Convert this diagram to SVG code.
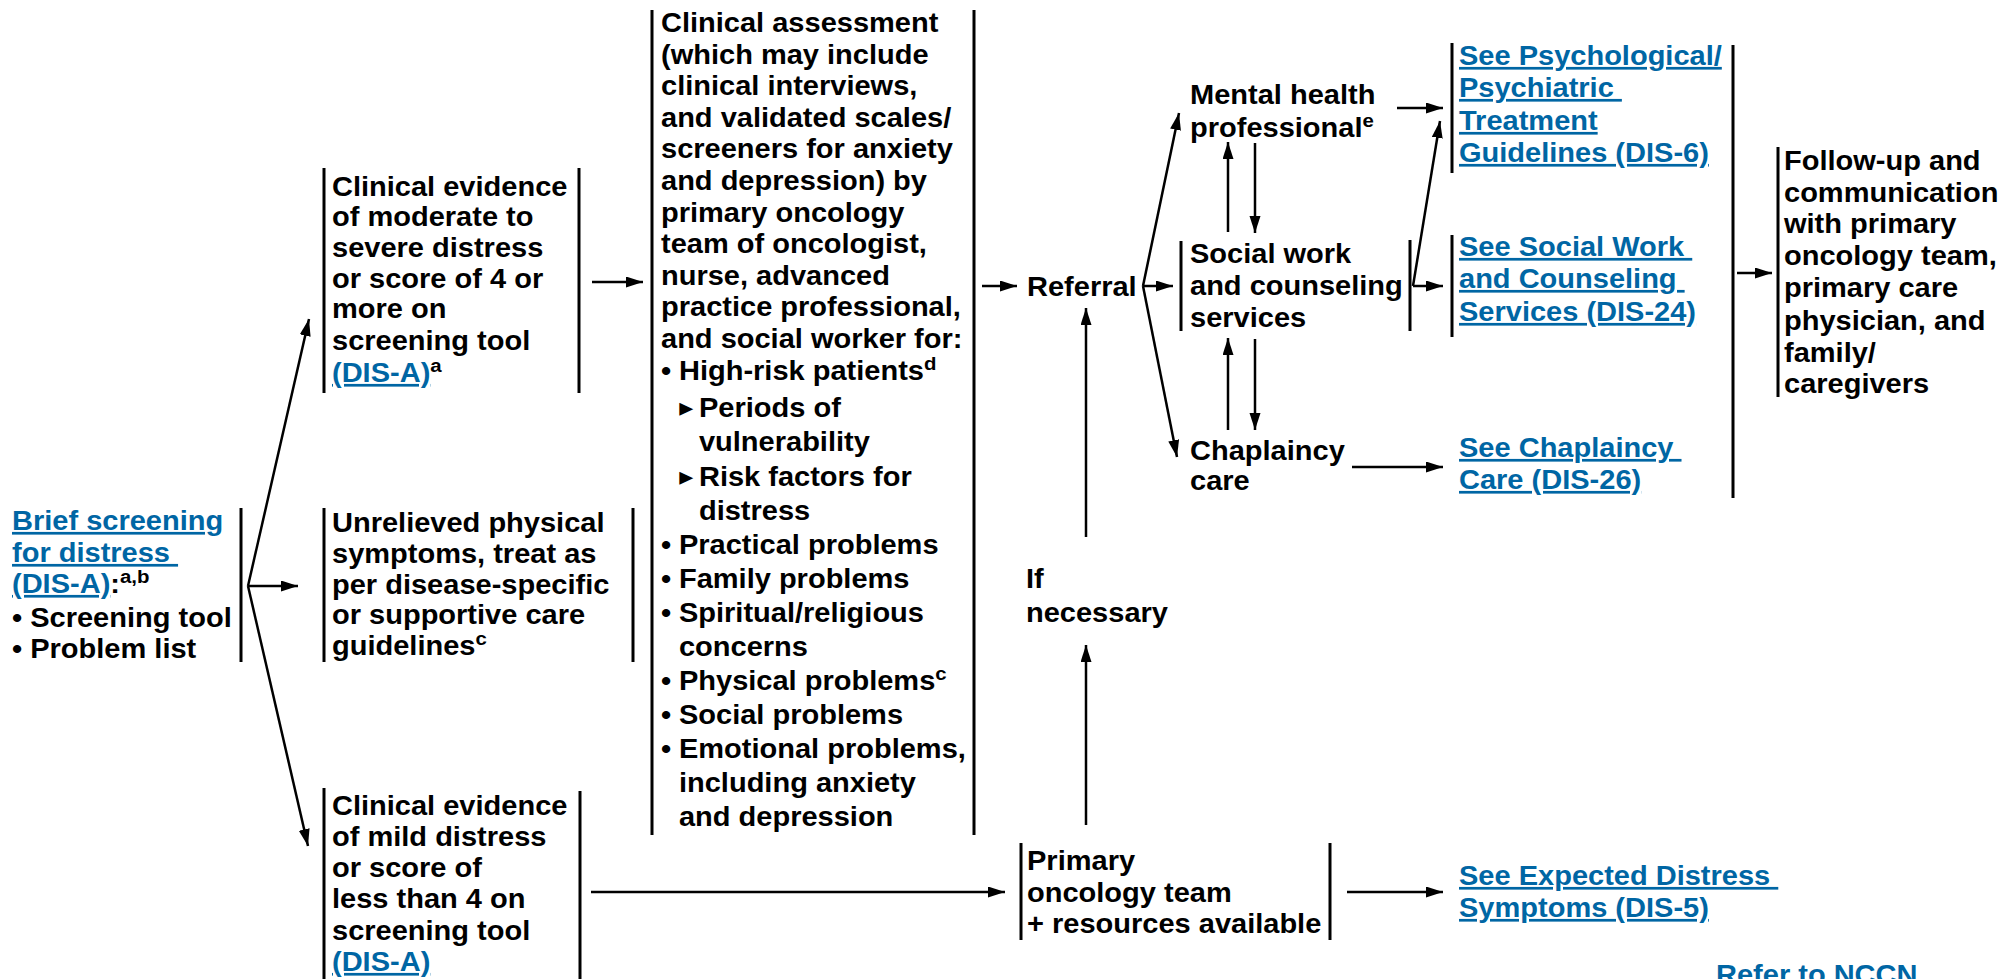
<svg xmlns="http://www.w3.org/2000/svg" width="2003" height="979" viewBox="0 0 2003 979">
<defs>
<style>
.t{font-family:"Liberation Sans",Arial,"DejaVu Sans",sans-serif;font-weight:bold;font-size:27px;fill:#000;white-space:pre}
.lk{fill:#0066a4;text-decoration:underline}
.sup{font-size:19px}
.tri{font-family:"DejaVu Sans",sans-serif;font-size:26px}
.bar{stroke:#000;stroke-width:3;fill:none}
.ar{stroke:#000;stroke-width:2.5;fill:none;marker-end:url(#ah)}
</style>
<marker id="ah" markerUnits="userSpaceOnUse" markerWidth="18" markerHeight="12" refX="17" refY="5.5" orient="auto">
<path d="M0,0 L17,5.5 L0,11 z" fill="#000"/>
</marker>
</defs>
<rect width="2003" height="979" fill="#fff"/>

<g id="connectors">
<line class="ar" x1="248" y1="586" x2="298" y2="586"/>
<line class="ar" x1="248" y1="586" x2="309" y2="319"/>
<line class="ar" x1="248" y1="586" x2="308" y2="846"/>
<line class="ar" x1="592" y1="282" x2="643" y2="282"/>
<line class="ar" x1="982" y1="286" x2="1017" y2="286"/>
<line class="ar" x1="1143" y1="286" x2="1173" y2="286"/>
<line class="ar" x1="1143" y1="286" x2="1179" y2="113"/>
<line class="ar" x1="1143" y1="286" x2="1177" y2="457"/>
<line class="ar" x1="1228" y1="232" x2="1228" y2="142"/>
<line class="ar" x1="1255" y1="143" x2="1255" y2="233"/>
<line class="ar" x1="1228" y1="430" x2="1228" y2="338"/>
<line class="ar" x1="1255" y1="339" x2="1255" y2="430"/>
<line class="ar" x1="1397" y1="108" x2="1443" y2="108"/>
<line class="ar" x1="1413" y1="286" x2="1443" y2="286"/>
<line class="ar" x1="1413" y1="286" x2="1440" y2="121"/>
<line class="ar" x1="1352" y1="467" x2="1443" y2="467"/>
<line class="ar" x1="591" y1="892" x2="1005" y2="892"/>
<line class="ar" x1="1347" y1="892" x2="1443" y2="892"/>
<line class="ar" x1="1086" y1="825" x2="1086" y2="645"/>
<line class="ar" x1="1086" y1="537" x2="1086" y2="308"/>
<line class="ar" x1="1737" y1="273" x2="1772" y2="273"/>
</g>

<g id="brief-screening">
<line class="bar" x1="241" y1="508" x2="241" y2="662"/>
<text class="t" transform="translate(12,0) scale(1.075,1)">
<tspan x="0" y="530" class="lk">Brief screening</tspan>
<tspan x="0" y="562" class="lk">for distress </tspan>
<tspan x="0" y="593"><tspan class="lk">(DIS-A)</tspan>:<tspan class="sup" dy="-10">a,b</tspan></tspan>
<tspan x="0" y="627">• Screening tool</tspan>
<tspan x="0" y="658">• Problem list</tspan>
</text>
</g>

<g id="moderate-distress">
<line class="bar" x1="324" y1="168" x2="324" y2="393"/>
<line class="bar" x1="579" y1="168" x2="579" y2="393"/>
<text class="t" transform="translate(332,0) scale(1.075,1)">
<tspan x="0" y="196">Clinical evidence</tspan>
<tspan x="0" y="226">of moderate to</tspan>
<tspan x="0" y="257">severe distress</tspan>
<tspan x="0" y="288">or score of 4 or</tspan>
<tspan x="0" y="318">more on</tspan>
<tspan x="0" y="350">screening tool</tspan>
<tspan x="0" y="382"><tspan class="lk">(DIS-A)</tspan><tspan class="sup" dy="-10">a</tspan></tspan>
</text>
</g>

<g id="physical-symptoms">
<line class="bar" x1="324" y1="508" x2="324" y2="662"/>
<line class="bar" x1="633" y1="508" x2="633" y2="662"/>
<text class="t" transform="translate(332,0) scale(1.075,1)">
<tspan x="0" y="532">Unrelieved physical</tspan>
<tspan x="0" y="563">symptoms, treat as</tspan>
<tspan x="0" y="594">per disease-specific</tspan>
<tspan x="0" y="624">or supportive care</tspan>
<tspan x="0" y="655">guidelines<tspan class="sup" dy="-10">c</tspan></tspan>
</text>
</g>

<g id="mild-distress">
<line class="bar" x1="324" y1="788" x2="324" y2="979"/>
<line class="bar" x1="580" y1="791" x2="580" y2="979"/>
<text class="t" transform="translate(332,0) scale(1.075,1)">
<tspan x="0" y="815">Clinical evidence</tspan>
<tspan x="0" y="846">of mild distress</tspan>
<tspan x="0" y="877">or score of</tspan>
<tspan x="0" y="908">less than 4 on</tspan>
<tspan x="0" y="940">screening tool</tspan>
<tspan x="0" y="971" class="lk">(DIS-A)</tspan>
</text>
</g>

<g id="clinical-assessment">
<line class="bar" x1="652" y1="10" x2="652" y2="835"/>
<line class="bar" x1="974" y1="10" x2="974" y2="835"/>
<text class="t" transform="translate(661,0) scale(1.075,1)">
<tspan x="0" y="32">Clinical assessment</tspan>
<tspan x="0" y="63.6">(which may include</tspan>
<tspan x="0" y="95.2">clinical interviews,</tspan>
<tspan x="0" y="126.8">and validated scales/</tspan>
<tspan x="0" y="158.4">screeners for anxiety</tspan>
<tspan x="0" y="190">and depression) by</tspan>
<tspan x="0" y="221.6">primary oncology</tspan>
<tspan x="0" y="253.2">team of oncologist,</tspan>
<tspan x="0" y="284.8">nurse, advanced</tspan>
<tspan x="0" y="316.4">practice professional,</tspan>
<tspan x="0" y="348">and social worker for:</tspan>
<tspan x="0" y="380">•</tspan><tspan x="16.7" y="380">High-risk patients<tspan class="sup" dy="-10">d</tspan></tspan>
<tspan x="17" y="416" class="tri">▸</tspan><tspan x="35.3" y="417">Periods of</tspan>
<tspan x="35.3" y="451">vulnerability</tspan>
<tspan x="17" y="485" class="tri">▸</tspan><tspan x="35.3" y="486">Risk factors for</tspan>
<tspan x="35.3" y="520">distress</tspan>
<tspan x="0" y="554">•</tspan><tspan x="16.7" y="554">Practical problems</tspan>
<tspan x="0" y="588">•</tspan><tspan x="16.7" y="588">Family problems</tspan>
<tspan x="0" y="622">•</tspan><tspan x="16.7" y="622">Spiritual/religious</tspan>
<tspan x="16.7" y="656">concerns</tspan>
<tspan x="0" y="690">•</tspan><tspan x="16.7" y="690">Physical problems<tspan class="sup" dy="-10">c</tspan></tspan>
<tspan x="0" y="724">•</tspan><tspan x="16.7" y="724">Social problems</tspan>
<tspan x="0" y="758">•</tspan><tspan x="16.7" y="758">Emotional problems,</tspan>
<tspan x="16.7" y="792">including anxiety</tspan>
<tspan x="16.7" y="826">and depression</tspan>
</text>
</g>

<g id="referral">
<text class="t" transform="translate(1027,0) scale(1.075,1)"><tspan x="0" y="296">Referral</tspan></text>
</g>

<g id="mental-health">
<text class="t" transform="translate(1190,0) scale(1.075,1)">
<tspan x="0" y="104">Mental health</tspan>
<tspan x="0" y="137">professional<tspan class="sup" dy="-10">e</tspan></tspan>
</text>
</g>

<g id="social-work">
<line class="bar" x1="1181" y1="241" x2="1181" y2="331"/>
<line class="bar" x1="1410" y1="240" x2="1410" y2="331"/>
<text class="t" transform="translate(1190,0) scale(1.075,1)">
<tspan x="0" y="263">Social work</tspan>
<tspan x="0" y="295">and counseling</tspan>
<tspan x="0" y="327">services</tspan>
</text>
</g>

<g id="chaplaincy">
<text class="t" transform="translate(1190,0) scale(1.075,1)">
<tspan x="0" y="460">Chaplaincy</tspan>
<tspan x="0" y="490">care</tspan>
</text>
</g>

<g id="if-necessary">
<text class="t" transform="translate(1026,0) scale(1.075,1)">
<tspan x="0" y="588">If</tspan>
<tspan x="0" y="622">necessary</tspan>
</text>
</g>

<g id="primary-oncology">
<line class="bar" x1="1021" y1="843" x2="1021" y2="940"/>
<line class="bar" x1="1330" y1="843" x2="1330" y2="940"/>
<text class="t" transform="translate(1027,0) scale(1.075,1)">
<tspan x="0" y="870">Primary</tspan>
<tspan x="0" y="902">oncology team</tspan>
<tspan x="0" y="933">+ resources available</tspan>
</text>
</g>

<g id="see-psychological">
<line class="bar" x1="1452" y1="43" x2="1452" y2="173"/>
<text class="t" transform="translate(1459,0) scale(1.075,1)">
<tspan x="0" y="65" class="lk">See Psychological/</tspan>
<tspan x="0" y="97" class="lk">Psychiatric </tspan>
<tspan x="0" y="130" class="lk">Treatment</tspan>
<tspan x="0" y="162" class="lk">Guidelines (DIS-6)</tspan>
</text>
</g>

<g id="see-social-work">
<line class="bar" x1="1452" y1="235" x2="1452" y2="337"/>
<text class="t" transform="translate(1459,0) scale(1.075,1)">
<tspan x="0" y="256" class="lk">See Social Work </tspan>
<tspan x="0" y="288" class="lk">and Counseling </tspan>
<tspan x="0" y="321" class="lk">Services (DIS-24)</tspan>
</text>
</g>

<g id="see-chaplaincy">
<text class="t" transform="translate(1459,0) scale(1.075,1)">
<tspan x="0" y="457" class="lk">See Chaplaincy </tspan>
<tspan x="0" y="489" class="lk">Care (DIS-26)</tspan>
</text>
</g>

<g id="see-expected">
<text class="t" transform="translate(1459,0) scale(1.075,1)">
<tspan x="0" y="885" class="lk">See Expected Distress </tspan>
<tspan x="0" y="917" class="lk">Symptoms (DIS-5)</tspan>
</text>
</g>

<g id="follow-up">
<line class="bar" x1="1733" y1="45" x2="1733" y2="498"/>
<line class="bar" x1="1778" y1="147" x2="1778" y2="397"/>
<text class="t" transform="translate(1784,0) scale(1.075,1)">
<tspan x="0" y="170">Follow-up and</tspan>
<tspan x="0" y="202">communication</tspan>
<tspan x="0" y="233">with primary</tspan>
<tspan x="0" y="265">oncology team,</tspan>
<tspan x="0" y="297">primary care</tspan>
<tspan x="0" y="330">physician, and</tspan>
<tspan x="0" y="362">family/</tspan>
<tspan x="0" y="393">caregivers</tspan>
</text>
</g>

<g id="refer-nccn">
<text class="t" transform="translate(1716,0) scale(1.075,1)"><tspan x="0" y="984" fill="#0066a4">Refer to NCCN</tspan></text>
</g>
</svg>
